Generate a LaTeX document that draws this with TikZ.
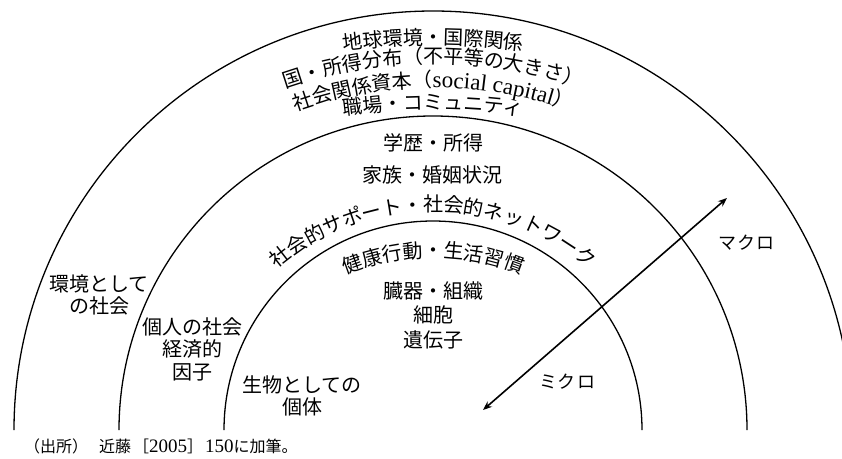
\documentclass[tikz,border=0pt]{standalone}
\usepackage{fontspec}
\setmainfont{Noto Sans CJK JP}
\newfontfamily\serifl{Liberation Serif}
\usetikzlibrary{decorations.text,arrows.meta}
\begin{document}
\begin{tikzpicture}[x=1pt,y=1pt,
  ring/.style={line width=1.3pt},
  lbl/.style={inner sep=0pt, align=center, font=\fontsize{20}{22.5}\selectfont},
  kata/.style={inner sep=0pt, font=\fontsize{18}{18}\selectfont},
  srcnote/.style={anchor=base west, inner sep=0pt, font=\fontsize{16}{16}\selectfont},
  scalearrow/.style={line width=1.6pt, {Stealth[length=9pt,width=7pt]}-{Stealth[length=9pt,width=7pt]}}]
\path[use as bounding box, clip] (0,0) rectangle (842,-458);
\fill[white] (0,0) rectangle (842,-458);
\fontsize{20}{20}\selectfont
% rings
\coordinate (C) at (433,-430);
\draw[ring] (C) ++(180:419) arc[start angle=180, end angle=0, radius=419];
\draw[ring] (C) ++(180:314) arc[start angle=180, end angle=0, radius=314];
\draw[ring] (C) ++(180:209) arc[start angle=180, end angle=0, radius=209];
% curved texts, outer band
\path[decorate, decoration={text along path, text align=center,
  text={地球環境・国際関係}}]
  (433,-737) ++(106:692.4) arc[start angle=106, end angle=74, radius=692.4];
\path[decorate, decoration={text along path, text align=center,
  text={国・所得分布（不平等の大きさ）}}]
  (433,-512) ++(118:448.4) arc[start angle=118, end angle=62, radius=448.4];
\path[decorate, decoration={text along path, text align=center,
  text={社会関係資本（|\serifl\fontsize{23}{23}\selectfont|social capital|\fontsize{20}{20}\selectfont\normalfont|）}}]
  (433,-500) ++(122:412.4) arc[start angle=122, end angle=58, radius=412.4];
\path[decorate, decoration={text along path, text align=center,
  text={職場・コミュニティ}}]
  (433,-742) ++(106:632.4) arc[start angle=106, end angle=74, radius=632.4];
% curved texts, middle and inner bands
\path[decorate, decoration={text along path, text align=center,
  text={社会的サポート・社会的ネットワーク}}]
  (433,-454) ++(142:242.4) arc[start angle=142, end angle=38, radius=242.4];
\path[decorate, decoration={text along path, text align=center,
  text={健康行動・生活習慣}}]
  (433,-490) ++(128:232.4) arc[start angle=128, end angle=52, radius=232.4];
% straight labels
\node[lbl] (edu) at (433,-143) {学歴・所得};
\node[lbl] (fam) at (432,-175) {家族・婚姻状況};
\node[lbl] (env) at (99,-295) {環境として\\の社会};
\node[lbl] (indiv) at (192,-349) {個人の社会\\経済的\\因子};
\node[lbl] (bio) at (302,-396) {生物としての\\個体};
\node[lbl, font=\fontsize{20}{24.5}\selectfont] (organ) at (433,-315) {臓器・組織\\細胞\\遺伝子};
\node[kata] (macrot) at (746,-243) {マ\kern1ptク\kern1ptロ};
\node[kata] (microt) at (567,-382) {ミ\kern1ptク\kern1ptロ};
% arrow
\coordinate (micro) at (483,-410);
\coordinate (macro) at (727,-198);
\draw[scalearrow] (micro) -- (macro);
% source
\node[srcnote] (src1) at (24,-452) {（出所）};
\node[srcnote] (src2) at (99,-452) {近藤\hspace{2pt}［{\serifl\fontsize{19}{19}\selectfont 2005}］\hspace{2pt}{\serifl\fontsize{19}{19}\selectfont 150}に加筆。};
\end{tikzpicture}
\end{document}
